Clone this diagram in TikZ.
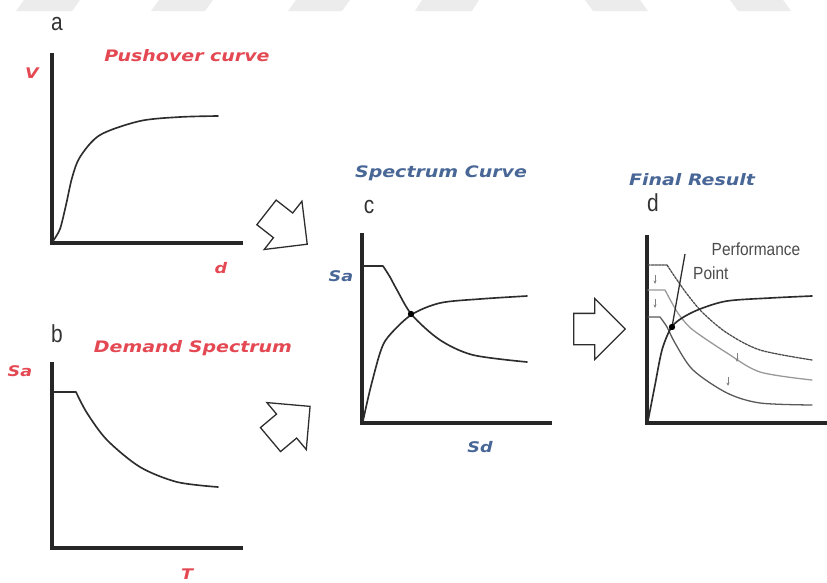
\documentclass[tikz,border=0pt]{standalone}
\usepackage{fontspec}
\usetikzlibrary{shapes.arrows,arrows.meta}
\newfontfamily\titlefont[FakeStretch=1.2]{DejaVu Sans}
\newfontfamily\panelfont{Liberation Sans}
\definecolor{titlered}{RGB}{228,72,82}
\definecolor{titleblue}{RGB}{72,102,150}
\definecolor{inkgray}{RGB}{45,45,45}
\definecolor{markgray}{RGB}{236,236,236}

\begin{document}
\begin{tikzpicture}[x=0.03cm, y=-0.03cm,
  every node/.style={inner sep=1pt},
  axis/.style={line width=2.6pt, black!85, line join=miter},
  curve/.style={line width=1.4pt, inkgray, line cap=round},
  demand/.style={line width=1.1pt, line cap=round},
  panelletter/.style={font=\panelfont\fontsize{21}{21}\selectfont, text=black!80, xscale=0.85},
  redtitle/.style={font=\titlefont\bfseries\itshape\fontsize{13.5}{14}\selectfont, text=titlered},
  bluetitle/.style={font=\titlefont\bfseries\itshape\fontsize{13.5}{14}\selectfont, text=titleblue},
  redaxis/.style={font=\titlefont\bfseries\itshape\fontsize{12.5}{12.5}\selectfont, text=titlered},
  blueaxis/.style={font=\titlefont\bfseries\itshape\fontsize{12.5}{12.5}\selectfont, text=titleblue},
  perf/.style={font=\panelfont\fontsize{15}{15}\selectfont, text=black!70, xscale=0.88},
  blockarrow/.style={single arrow, draw=inkgray, line width=1.1pt, fill=white,
    minimum height=1.55cm, inner xsep=0.1cm, inner ysep=0.45cm,
    single arrow head extend=0.45cm, anchor=tail},
  tick/.style={-{Stealth[length=3pt,width=2.5pt]}, gray, line width=0.5pt}
]
\useasboundingbox (0,0) rectangle (827,583);
\fill[white] (0,0) rectangle (827,583);

% watermark band
\foreach \xa/\xb/\s in {16/72/8, 151/205/8, 288/342/8, 415/472/7, 593/648/-8, 738/791/-8}
  \fill[markgray] (\xa,11) -- (\xb,11) -- (\xb+\s,0) -- (\xa+\s,0) -- cycle;

% panel a: pushover curve
\node[panelletter] (la) at (57,24) {a};
\node[redtitle] (ta) at (187,56) {Pushover curve};
\node[redaxis] (av) at (32,73) {V};
\node[redaxis] (ad) at (221,268) {d};
\draw[axis] (52,53) -- (52,243) -- (243,243);
\draw[curve] plot[smooth] coordinates {(53,241) (60,229) (66,205) (72,178) (80,157) (100,135) (140,121) (180,117) (218,116)};

% panel b: demand spectrum
\node[panelletter] (lb) at (57,334) {b};
\node[redtitle] (tb) at (193,348) {Demand Spectrum};
\node[redaxis] (bsa) at (20,371) {Sa};
\node[redaxis] (bt) at (187,574) {T};
\draw[axis] (52,362) -- (52,548) -- (243,548);
\draw[curve] (53,392) -- (76,392) plot[smooth] coordinates {(76,392) (87,413) (107,440) (140,467) (177,482) (218,487)};

% panel c: spectrum curve
\node[panelletter] (lc) at (369,207) {c};
\node[bluetitle] (tc) at (441,173) {Spectrum Curve};
\node[blueaxis] (csa) at (341,276) {Sa};
\node[blueaxis] (csd) at (480,447) {Sd};
\draw[axis] (362,233) -- (362,423) -- (552,423);
\draw[curve] (363,266) -- (383,266) plot[smooth] coordinates {(383,266) (390,277) (397,290) (412,315) (440,340) (473,355) (527,362)};
\draw[curve] plot[smooth] coordinates {(363,421) (370,390) (380,353) (388,337) (411,315) (440,303) (480,299) (527,296)};
\fill[black] (411,314) circle (3.2);

% panel d: final result
\node[panelletter] (ld) at (653,203) {d};
\node[bluetitle] (td) at (692,180) {Final Result};
\node[perf] (pa) at (756,249) {Performance};
\node[perf, anchor=west] (pb) at (692,273) {Point};
\draw[axis] (647,235) -- (647,423) -- (827,423);
\draw[demand, black!70, dash pattern=on 2pt off 1pt] (648,265) -- (667,265) plot[smooth] coordinates {(667,265) (675,277) (687,294) (703,313) (727,333) (760,350) (812,360)};
\draw[demand, black!40] (648,290) -- (665,290) plot[smooth] coordinates {(665,290) (672,303) (680,316) (693,330) (727,353) (760,372) (812,380)};
\draw[demand, black!65] (648,317) -- (660,317) plot[smooth] coordinates {(660,317) (667,327) (675,343) (693,370) (727,393) (760,403) (812,405)};
\draw[curve] plot[smooth] coordinates {(648,421) (655,385) (662,350) (671,328) (682,318) (700,309) (727,301) (770,298) (812,296)};
\coordinate (pp) at (672,327);
\coordinate (pptop) at (685,254);
\draw[line width=1.1pt, inkgray] (pp) -- (pptop);
\fill[black] (pp) circle (3.2);
\foreach \tx/\ty in {655/275, 655/299, 737/353, 728/377}
  \draw[tick] (\tx,\ty) -- (\tx,\ty+9);

% block arrows between panels
\node[blockarrow, rotate=-38] (arrA) at (266,212) {};
\node[blockarrow, rotate=40] (arrB) at (270,440) {};
\node[blockarrow] (arrC) at (573,329) {};
\end{tikzpicture}
\end{document}
